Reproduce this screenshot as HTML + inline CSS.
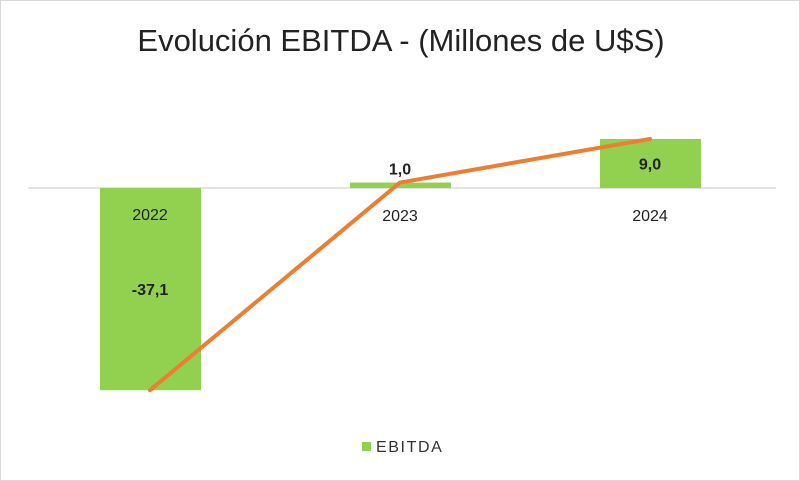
<!DOCTYPE html>
<html><head><meta charset="utf-8"><style>
body{margin:0;background:#fff;}
svg{display:block;font-family:"Liberation Sans",sans-serif;}
</style></head><body>
<svg width="800" height="481">
<rect x="0.5" y="0.5" width="799" height="480" fill="#fff" stroke="#d9d9d9"/>
<text x="401" y="51" text-anchor="middle" font-size="31" fill="#222">Evolución EBITDA - (Millones de U$S)</text>
<g id="plot"></g>
<rect x="362" y="442" width="9" height="9" fill="#92d050"/>
<text x="376" y="452" font-size="16" letter-spacing="1.6" fill="#333">EBITDA</text>
</svg>
<script>
const categories=["2022","2023","2024"];
const values=[-37.1,1.0,9.0];
const labels=["-37,1","1,0","9,0"];
const ns="http://www.w3.org/2000/svg";
const g=document.getElementById('plot');
const base=188, k=5.45;
const y=v=>base-v*k;
const x=i=>150+i*250;
function mk(t,a){const e=document.createElementNS(ns,t);for(const n in a)e.setAttribute(n,a[n]);g.appendChild(e);return e;}
const ax=mk('line',{x1:28,x2:776,y1:base,y2:base,stroke:'#d9d9d9','stroke-width':1.5});


let pts=[];
values.forEach((v,i)=>{
 const r=mk('rect',{x:x(i)-50,width:101,y:Math.min(y(v),base),height:Math.abs(y(v)-base),fill:'#92d050'});
 
 
 pts.push(x(i)+','+y(v));
});
values.forEach((v,i)=>{
 const t=mk('text',{x:x(i),y:v<0?base+32:base+33,'text-anchor':'middle','font-size':16,fill:'#222'});
 t.textContent=categories[i];
 
 
 const ly=v<0?(base+y(v))/2+6:(v<3?y(v)-8:(base+y(v))/2+6);
 const d=mk('text',{x:x(i),y:ly,'text-anchor':'middle','font-size':16,'font-weight':'bold',fill:'#222'});
 d.textContent=labels[i];
 
 
});
const pl=mk('polyline',{points:pts.join(' '),fill:'none',stroke:'#ed7d31','stroke-width':4,'stroke-linecap':'round','stroke-linejoin':'round'});


</script>
</body></html>
